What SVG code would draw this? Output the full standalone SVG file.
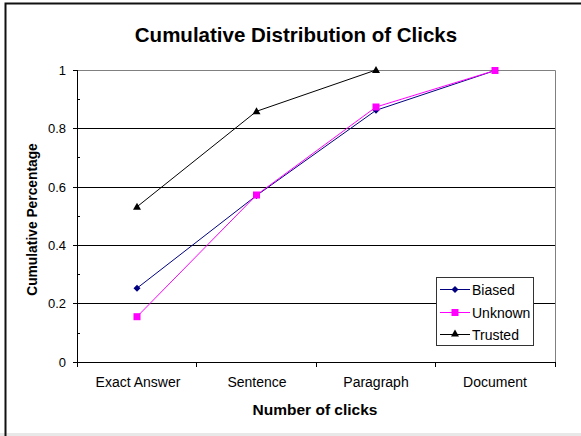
<svg xmlns="http://www.w3.org/2000/svg" xmlns:xlink="http://www.w3.org/1999/xlink" width="581" height="436" viewBox="0 0 581 436">
<style>
text{font-family:"Liberation Sans",Arial,sans-serif;fill:#000}
.b{font-weight:bold}
.tick{font-size:13px;text-anchor:end}
.cat{font-size:14px;text-anchor:middle}
.leg{font-size:14px}
.grid{stroke:#000;stroke-width:1}
.axis{stroke:#000;stroke-width:1;fill:none}
.s1{stroke:#000080;stroke-width:1;fill:none}
.s2{stroke:#FF00FF;stroke-width:1;fill:none}
.s3{stroke:#000;stroke-width:1;fill:none}
</style>
<defs>
<path id="dia" d="M0,-3.5 L3.5,0 L0,3.5 L-3.5,0Z" fill="#000080"/>
<rect id="sq" x="-3.5" y="-3.5" width="7" height="7" fill="#FF00FF"/>
<path id="tri" d="M0,-4 L4,3 L-4,3Z" fill="#000"/>
</defs>
<rect x="0" y="0" width="581" height="436" fill="#fff"/>
<rect x="0" y="433" width="581" height="3" fill="#e8e8e8"/>
<g id="frame">
<path d="M5.5,436 V3.5 H581" fill="none" stroke="#111" stroke-width="2"/>
</g>
<text id="title" class="b" x="296" y="41.5" font-size="20.5" text-anchor="middle">Cumulative Distribution of Clicks</text>
<g id="plot">
<path d="M77,70.5 H555.5 V362" fill="none" stroke="#808080" stroke-width="1"/>
<g class="grid">
<line x1="77" y1="128.5" x2="555" y2="128.5"/>
<line x1="77" y1="187.5" x2="555" y2="187.5"/>
<line x1="77" y1="245.5" x2="555" y2="245.5"/>
<line x1="77" y1="303.5" x2="555" y2="303.5"/>
</g>
<g class="axis">
<path d="M77.5,70 V362.5 H555.5"/>
<path d="M73,70.5 H77 M73,128.5 H77 M73,187.5 H77 M73,245.5 H77 M73,303.5 H77 M73,362.5 H77"/>
<path d="M77,99.5 H80 M77,157.5 H80 M77,216.5 H80 M77,274.5 H80 M77,333.5 H80"/>
<path d="M77.5,362 V367 M196.5,362 V367 M316.5,362 V367 M435.5,362 V367 M555.5,362 V367"/>
</g>
<g id="ytick-labels">
<text class="tick" x="66" y="75">1</text>
<text class="tick" x="66" y="133">0.8</text>
<text class="tick" x="66" y="192">0.6</text>
<text class="tick" x="66" y="250">0.4</text>
<text class="tick" x="66" y="308">0.2</text>
<text class="tick" x="66" y="367">0</text>
</g>
<g id="xcat-labels">
<text class="cat" x="138" y="387">Exact Answer</text>
<text class="cat" x="257" y="387">Sentence</text>
<text class="cat" x="376" y="387">Paragraph</text>
<text class="cat" x="495" y="387">Document</text>
</g>
<text id="xtitle" class="b" x="315" y="415" font-size="15.5" text-anchor="middle">Number of clicks</text>
<text id="ytitle" class="b" x="0" y="0" font-size="13.8" text-anchor="middle" transform="translate(37,219.5) rotate(-90)">Cumulative Percentage</text>
</g>
<g id="series-biased">
<polyline class="s1" points="137,288.2 256.5,195.5 376,110.3 495,70.5"/>
<use xlink:href="#dia" x="137" y="288.2"/>
<use xlink:href="#dia" x="256.5" y="195.5"/>
<use xlink:href="#dia" x="376" y="110.3"/>
<use xlink:href="#dia" x="495" y="70.5"/>
</g>
<g id="series-unknown">
<polyline class="s2" points="137,316.7 256.5,195 376,107 495,70.5"/>
<use xlink:href="#sq" x="137" y="316.7"/>
<use xlink:href="#sq" x="256.5" y="195"/>
<use xlink:href="#sq" x="376" y="107"/>
<use xlink:href="#sq" x="495" y="70.5"/>
</g>
<g id="series-trusted">
<polyline class="s3" points="137,206.8 256.5,111.3 376,70"/>
<use xlink:href="#tri" x="137" y="206.8"/>
<use xlink:href="#tri" x="256.5" y="111.3"/>
<use xlink:href="#tri" x="376" y="70"/>
</g>
<g id="legend">
<rect x="436.5" y="277.5" width="97" height="68" fill="#fff" stroke="#333" stroke-width="1"/>
<line class="s1" x1="440" y1="289.5" x2="470" y2="289.5"/>
<use xlink:href="#dia" x="455" y="289.5"/>
<text class="leg" x="472" y="294.5">Biased</text>
<line class="s2" x1="440" y1="312.5" x2="470" y2="312.5"/>
<use xlink:href="#sq" x="455" y="312.5"/>
<text class="leg" x="472" y="317.5">Unknown</text>
<line class="s3" x1="440" y1="334.5" x2="470" y2="334.5"/>
<use xlink:href="#tri" x="455" y="333.5"/>
<text class="leg" x="472" y="339.5">Trusted</text>
</g>
</svg>
